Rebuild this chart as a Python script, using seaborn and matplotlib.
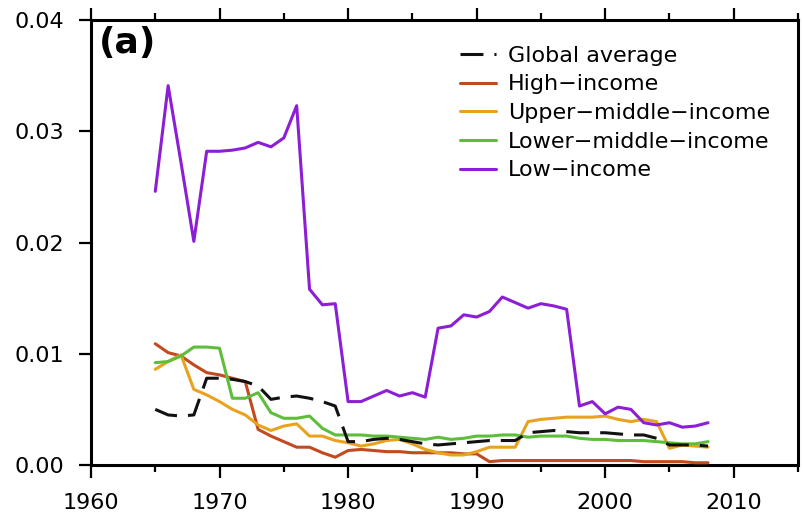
import numpy as np
import pandas as pd
import matplotlib
matplotlib.use("Agg")
import matplotlib.pyplot as plt
from matplotlib.ticker import MultipleLocator, FormatStrFormatter
import seaborn as sns

years = list(range(1965, 2009))

global_average = [
    0.0050, 0.0045, 0.0044, 0.0045, 0.0078, 0.0078, 0.0077, 0.0075, 0.0071, 0.0059,
    0.0061, 0.0062, 0.0060, 0.0057, 0.0053, 0.0021, 0.0021, 0.0023, 0.0024, 0.0023,
    0.0021, 0.0019, 0.0018, 0.0019, 0.0020, 0.0021, 0.0022, 0.0022, 0.0022, 0.0029,
    0.0030, 0.0031, 0.0030, 0.0029, 0.0029, 0.0029, 0.0028, 0.0027, 0.0027, 0.0024,
    0.0018, 0.0018, 0.0018, 0.0017,
]
high_income = [
    0.0109, 0.0101, 0.0098, 0.0090, 0.0083, 0.0081, 0.0078, 0.0075, 0.0032, 0.0026,
    0.0021, 0.0016, 0.0016, 0.0011, 0.0007, 0.0013, 0.0014, 0.0013, 0.0012, 0.0012,
    0.0011, 0.0011, 0.0011, 0.0011, 0.0010, 0.0010, 0.0003, 0.0004, 0.0004, 0.0004,
    0.0004, 0.0004, 0.0004, 0.0004, 0.0004, 0.0004, 0.0004, 0.0004, 0.0003, 0.0003,
    0.0003, 0.0003, 0.0002, 0.0002,
]
upper_middle_income = [
    0.0086, 0.0093, 0.0099, 0.0068, 0.0063, 0.0057, 0.0050, 0.0045, 0.0036, 0.0031,
    0.0035, 0.0037, 0.0026, 0.0026, 0.0022, 0.0020, 0.0017, 0.0019, 0.0022, 0.0023,
    0.0019, 0.0014, 0.0011, 0.0009, 0.0009, 0.0012, 0.0016, 0.0016, 0.0016, 0.0039,
    0.0041, 0.0042, 0.0043, 0.0043, 0.0043, 0.0044, 0.0041, 0.0039, 0.0041, 0.0039,
    0.0015, 0.0018, 0.0017, 0.0016,
]
lower_middle_income = [
    0.0092, 0.0093, 0.0098, 0.0106, 0.0106, 0.0105, 0.0060, 0.0060, 0.0065, 0.0047,
    0.0042, 0.0042, 0.0044, 0.0033, 0.0027, 0.0027, 0.0027, 0.0026, 0.0026, 0.0025,
    0.0024, 0.0023, 0.0025, 0.0023, 0.0024, 0.0026, 0.0026, 0.0027, 0.0027, 0.0025,
    0.0026, 0.0026, 0.0026, 0.0024, 0.0023, 0.0023, 0.0022, 0.0022, 0.0022, 0.0021,
    0.0020, 0.0019, 0.0019, 0.0021,
]
low_income = [
    0.0246, 0.0341, 0.0272, 0.0201, 0.0282, 0.0282, 0.0283, 0.0285, 0.0290, 0.0286,
    0.0294, 0.0323, 0.0158, 0.0144, 0.0145, 0.0057, 0.0057, 0.0062, 0.0067, 0.0062,
    0.0065, 0.0061, 0.0123, 0.0125, 0.0135, 0.0133, 0.0138, 0.0151, 0.0146, 0.0141,
    0.0145, 0.0143, 0.0140, 0.0053, 0.0057, 0.0046, 0.0052, 0.0050, 0.0038, 0.0036,
    0.0038, 0.0034, 0.0035, 0.0038,
]

series_names = ["Global average", "High\u2212income", "Upper\u2212middle\u2212income",
                "Lower\u2212middle\u2212income", "Low\u2212income"]
series_values = [global_average, high_income, upper_middle_income,
                 lower_middle_income, low_income]
series_colors = ["#111111", "#C24A1E", "#E8A31E", "#5EBE3C", "#8C1ED6"]

sns.set_style("ticks")
plt.rcParams["font.family"] = ["DejaVu Sans"]
plt.rcParams["text.color"] = "black"
plt.rcParams["axes.labelcolor"] = "black"
plt.rcParams["xtick.color"] = "black"
plt.rcParams["ytick.color"] = "black"
plt.rcParams["axes.edgecolor"] = "black"

df = pd.concat(
    [pd.DataFrame({"year": years, "value": v, "group": n})
     for n, v in zip(series_names, series_values)],
    ignore_index=True,
)

fig = plt.figure(figsize=(8.04, 5.2), dpi=100)
ax = fig.add_axes([91 / 804, 1 - 465 / 520, (798 - 91) / 804, (465 - 20) / 520])

# draw the regional curves first, then the global mean dashed on top
order = [1, 2, 3, 4, 0]
handles = {}
for i in order:
    name = series_names[i]
    sub = df[df["group"] == name]
    sns.lineplot(data=sub, x="year", y="value", ax=ax, color=series_colors[i],
                 lw=2.2, legend=False, zorder=3 if i else 4)
    line = ax.lines[-1]
    if i == 0:
        line.set_linestyle((0, (7.5, 3.6)))
    handles[name] = line

ax.set_xlim(1960, 2015)
ax.set_ylim(0, 0.04)
ax.set_xlabel("")
ax.set_ylabel("")

ax.xaxis.set_major_locator(MultipleLocator(10))
ax.xaxis.set_minor_locator(MultipleLocator(5))
ax.yaxis.set_major_locator(MultipleLocator(0.01))
ax.yaxis.set_major_formatter(FormatStrFormatter("%.2f"))

for s in ax.spines.values():
    s.set_linewidth(2.2)
    s.set_visible(True)
    s.set_color("black")

ax.tick_params(axis="both", which="major", direction="out", length=9, width=1.6,
               labelsize=16, colors="black")
ax.tick_params(axis="x", which="major", pad=11, top=True, bottom=True)
ax.tick_params(axis="x", which="minor", direction="out", length=5, width=1.6,
               top=True, bottom=True, colors="black")
ax.tick_params(axis="y", which="major", pad=10, left=True, right=False)

ax.text(0.011, 0.987, "(a)", transform=ax.transAxes, fontsize=26,
        fontweight="bold", va="top", ha="left", color="black")

leg = ax.legend([handles[n] for n in series_names], series_names,
                loc="upper left", bbox_to_anchor=(0.51, 0.962), frameon=False,
                fontsize=16, handlelength=1.6, handletextpad=0.55,
                labelspacing=0.39, borderaxespad=0.0, labelcolor="black")

fig.savefig("out.png", dpi=100)
